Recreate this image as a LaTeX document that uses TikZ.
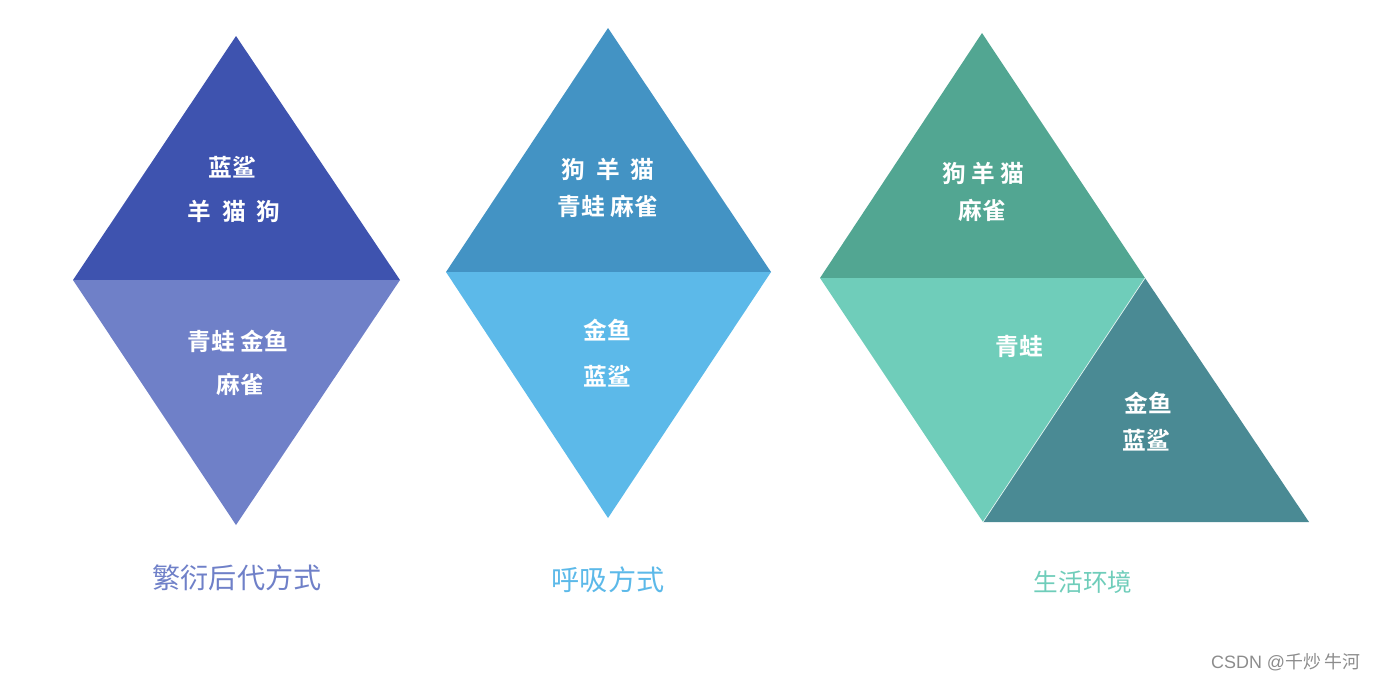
\documentclass[tikz,border=0pt]{standalone}
\usepackage{fontspec}
\usepackage{tikz}
\usetikzlibrary{positioning, calc}
\newfontfamily\cjk{Noto Sans CJK SC}
\newfontfamily\cjkb{Noto Sans CJK SC Bold}
\definecolor{blue_dark}{HTML}{3E53AF}
\definecolor{blue_light}{HTML}{6F80C8}
\definecolor{sky_dark}{HTML}{4393C4}
\definecolor{sky_light}{HTML}{5CB9E9}
\definecolor{sea_dark}{HTML}{52A692}
\definecolor{sea_light}{HTML}{6FCDBA}
\definecolor{sea_deep}{HTML}{4A8A94}
\tikzset{
  part/.style={draw=none},
  animals/.style={text=white,font=\cjkb\fontsize{13.5}{16}\selectfont,inner sep=0pt},
  heading/.style={font=\cjk\fontsize{16}{19}\selectfont,inner sep=0pt},
}
\begin{document}
\begin{tikzpicture}[x=0.02cm,y=-0.02cm]
	    \useasboundingbox (0,0) rectangle (1378,681);
	    % reproduction
	    \coordinate (a1) at (236,36);
	    \coordinate (a2) at (73,280);
	    \coordinate (a3) at (400,280);
	    \coordinate (a4) at (236,525);
	    \fill[blue_dark] (a1) -- (a2) -- (a3) -- cycle;
	    \fill[blue_light] (a2) -- (a3) -- (a4) -- cycle;
	    \node[animals] (a_up1) at (232,167) {蓝鲨};
	    \node[animals] (a_up2) at (234,211) {羊\ \ 猫\ \ 狗};
	    \node[animals] (a_lo1) at (238,341) {青蛙 金鱼};
	    \node[animals] (a_lo2) at (240,384) {麻雀};
	    \node[heading,text=blue_light] (a_name) at (237,578) {繁衍后代方式};
	    % breathing
	    \coordinate (b1) at (608,28);
	    \coordinate (b2) at (446,272);
	    \coordinate (b3) at (771,272);
	    \coordinate (b4) at (608,518);
	    \fill[sky_dark] (b1) -- (b2) -- (b3) -- cycle;
	    \fill[sky_light] (b2) -- (b3) -- (b4) -- cycle;
	    \node[animals] (b_up1) at (608,169) {狗\ \ 羊\ \ 猫};
	    \node[animals] (b_up2) at (608,206) {青蛙 麻雀};
	    \node[animals] (b_lo1) at (607,330) {金鱼};
	    \node[animals] (b_lo2) at (607,376) {蓝鲨};
	    \node[heading,text=sky_light] (b_name) at (608,580) {呼吸方式};
	    % habitat
	    \coordinate (c1) at (982,33);
	    \coordinate (c2) at (820,278);
	    \coordinate (c3) at (1145,278);
	    \coordinate (c4) at (983,522);
	    \coordinate (c5) at (1309,522);
	    \fill[sea_dark] (c1) -- (c2) -- (c3) -- cycle;
	    \fill[sea_light] (c2) -- (c3) -- (c4) -- cycle;
	    \fill[sea_deep] (c3) -- (c4) -- (c5) -- cycle;
	    \draw[white!80!sea_light,line width=0.4pt] (c3) -- (c4);
	    \node[animals] (c_up1) at (983,173) {狗 羊 猫};
	    \node[animals] (c_up2) at (982,210) {麻雀};
	    \node[animals] (c_mid) at (1019,346) {青蛙};
	    \node[animals] (c_lo1) at (1148,403) {金鱼};
	    \node[animals] (c_lo2) at (1146,440) {蓝鲨};
	    \node[heading,text=sea_light,font=\cjk\fontsize{14}{17}\selectfont] (c_name) at (1083,582) {生活环境};
	    \node[text=black!45,font=\fontspec{Liberation Sans}\fontsize{10.2}{12}\selectfont,inner sep=0pt] (credit) at (1286,662) {CSDN @{\cjk 千炒 牛河}};
	\end{tikzpicture}
\end{document}
